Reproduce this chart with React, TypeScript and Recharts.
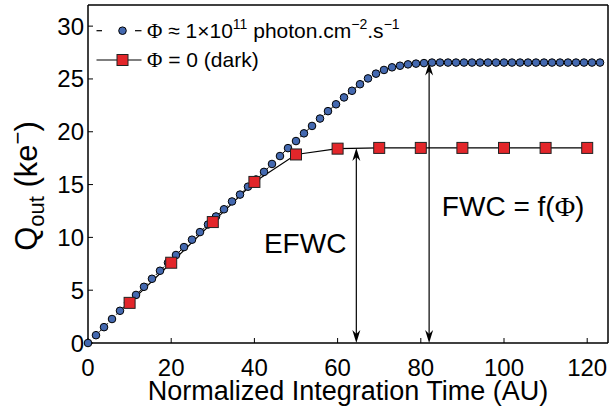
import { LineChart, Line, XAxis, YAxis, ReferenceLine, ReferenceDot, Legend } from "recharts";

// illuminated pixel, Φ ≈ 1e11 photon.cm-2.s-1
const blueTime = [
  0, 1.92, 3.85, 5.77, 7.69, 9.62, 11.54, 13.46, 15.38, 17.31, 19.23, 21.15, 23.08, 25, 26.92, 28.85,
  30.77, 32.69, 34.62, 36.54, 38.46, 40.38, 42.31, 44.23, 46.15, 48.08, 50, 51.92, 53.85, 55.77, 57.69,
  59.62, 61.54, 63.46, 65.38, 67.31, 69.23, 71.15, 73.08, 75, 76.92, 78.85, 80.77, 82.69, 84.62, 86.54,
  88.46, 90.38, 92.31, 94.23, 96.15, 98.08, 100, 101.92, 103.85, 105.77, 107.69, 109.62, 111.54, 113.46,
  115.38, 117.31, 119.23, 121.15, 123.08,
];
const blueCharge = [
  0, 0.74, 1.5, 2.27, 3.05, 3.8, 4.55, 5.32, 6.08, 6.84, 7.6, 8.33, 9.08, 9.78, 10.5, 11.22,
  11.98, 12.66, 13.4, 14.05, 14.8, 15.48, 16.2, 16.95, 17.7, 18.45, 19.12, 19.85, 20.55, 21.25, 21.95,
  22.6, 23.25, 23.88, 24.5, 25.05, 25.5, 25.85, 26.1, 26.25, 26.38, 26.45, 26.5, 26.55, 26.55, 26.55,
  26.55, 26.55, 26.55, 26.55, 26.55, 26.55, 26.55, 26.55, 26.55, 26.55, 26.55, 26.55, 26.55, 26.55,
  26.55, 26.55, 26.55, 26.55, 26.55,
];

// dark pixel, Φ = 0
const darkTime = [10, 20, 30, 40, 50, 60, 70, 80, 90, 100, 110, 120];
const darkCharge = [3.8, 7.6, 11.45, 15.25, 17.85, 18.4, 18.47, 18.47, 18.47, 18.47, 18.47, 18.47];

const xTicks = [0, 20, 40, 60, 80, 100, 120];
const yTicks = [0, 5, 10, 15, 20, 25, 30];

// annotation arrows
const efwcTime = 64.5;
const efwcLevel = 18.47;
const fwcTime = 82;
const fwcLevel = 26.55;

const FONT = '"Liberation Sans", Arial, Helvetica, sans-serif';
const SERIF = '"Liberation Serif", "Times New Roman", serif';

const blueData = blueTime.map((x, i) => ({ x, q: blueCharge[i] }));
const darkData = darkTime.map((x, i) => ({ x, q: darkCharge[i] }));

const BlueDot = (p: any) => (
  <circle key={`b-${p.index}`} cx={p.cx} cy={p.cy} r={3.8} fill="#4469B0" stroke="#000" strokeWidth={1} />
);

const RedDot = (p: any) => (
  <rect key={`r-${p.index}`} x={p.cx - 5.5} y={p.cy - 5.5} width={11} height={11} fill="#E3262A" stroke="#222" strokeWidth={1} />
);

function DoubleArrow(props: any) {
  const { x1, y1, y2 } = props;
  const top = Math.min(y1, y2);
  const bottom = Math.max(y1, y2);
  const x = x1;
  return (
    <g>
      <line x1={x} y1={top + 4} x2={x} y2={bottom - 4} stroke="#000" strokeWidth={1.2} />
      <path d={`M${x},${top} L${x - 4},${top + 13} L${x},${top + 9} L${x + 4},${top + 13} Z`} fill="#000" />
      <path d={`M${x},${bottom} L${x - 4},${bottom - 13} L${x},${bottom - 9} L${x + 4},${bottom - 13} Z`} fill="#000" />
    </g>
  );
}

function LegendBox() {
  return (
    <svg width={420} height={80} style={{ display: "block" }}>
      <line x1={96.5} y1={30.7} x2={102} y2={30.7} stroke="#000" strokeWidth={1.2} />
      <line x1={135} y1={30.7} x2={141.5} y2={30.7} stroke="#000" strokeWidth={1.2} />
      <circle cx={122.5} cy={30.7} r={3.8} fill="#4469B0" stroke="#000" strokeWidth={1} />
      <text x={147} y={37.5} fontSize={21} fontFamily={FONT} fill="#000">
        <tspan fontFamily={SERIF}>Φ</tspan>
        {" ≈ 1×10"}
        <tspan dy={-9} fontSize={14}>11</tspan>
        <tspan dy={9}>{" photon.cm"}</tspan>
        <tspan dy={-9} fontSize={14}>−2</tspan>
        <tspan dy={9}>.s</tspan>
        <tspan dy={-9} fontSize={14}>−1</tspan>
      </text>
      <line x1={96.5} y1={60} x2={141.5} y2={60} stroke="#000" strokeWidth={1.2} />
      <rect x={117} y={54.5} width={11} height={11} fill="#E3262A" stroke="#222" strokeWidth={1} />
      <text x={147} y={67} fontSize={21} fontFamily={FONT} fill="#000">
        <tspan fontFamily={SERIF}>Φ</tspan>
        {" = 0 (dark)"}
      </text>
    </svg>
  );
}

function XTitle(props: any) {
  const vb = props.viewBox;
  return (
    <text x={vb.x + vb.width / 2} y={vb.y + 57} textAnchor="middle" fontSize={27} fontFamily={FONT} fill="#000">
      Normalized Integration Time (AU)
    </text>
  );
}

function YTitle(props: any) {
  const vb = props.viewBox;
  const x = vb.x + 37;
  const y = vb.y + vb.height / 2 + 12;
  return (
    <text x={x} y={y} transform={`rotate(-90 ${x} ${y})`} textAnchor="middle" fontSize={31} fontFamily={FONT} fill="#000">
      Q
      <tspan fontSize={22} dy={7}>out</tspan>
      <tspan dy={-7}>{" (ke"}</tspan>
      <tspan fontSize={22} dy={-12}>−</tspan>
      <tspan dy={12}>)</tspan>
    </text>
  );
}

const tickStyle = { fontSize: 24, fill: "#000", fontFamily: FONT };

export default function App() {
  return (
    <div style={{ position: "absolute", left: 0, top: 0, background: "#fff" }}>
      <LineChart width={610} height={409} margin={{ top: 0, right: 0, bottom: 0, left: 0 }}>
        <XAxis
          xAxisId="b"
          type="number"
          dataKey="x"
          domain={[0, 125]}
          ticks={xTicks}
          orientation="bottom"
          height={66}
          tickSize={-5}
          tickMargin={21}
          axisLine={{ stroke: "#000", strokeWidth: 1.5 }}
          tickLine={{ stroke: "#000" }}
          tick={tickStyle}
          label={(p: any) => <XTitle {...p} />}
        />
        <XAxis
          xAxisId="t"
          type="number"
          dataKey="x"
          domain={[0, 125]}
          ticks={xTicks}
          orientation="top"
          height={5}
          tickSize={-5}
          tick={false}
          axisLine={{ stroke: "#000", strokeWidth: 1.5 }}
          tickLine={{ stroke: "#000" }}
        />
        <YAxis
          yAxisId="l"
          type="number"
          domain={[0, 32]}
          ticks={yTicks}
          orientation="left"
          width={88}
          tickSize={-5}
          tickMargin={9}
          axisLine={{ stroke: "#000", strokeWidth: 1.5 }}
          tickLine={{ stroke: "#000" }}
          tick={tickStyle}
          label={(p: any) => <YTitle {...p} />}
        />
        <YAxis
          yAxisId="r"
          type="number"
          domain={[0, 32]}
          ticks={yTicks}
          orientation="right"
          width={2}
          tickSize={-5}
          tick={false}
          axisLine={{ stroke: "#000", strokeWidth: 1.5 }}
          tickLine={{ stroke: "#000" }}
        />
        <Legend
          layout="vertical"
          align="center"
          verticalAlign="middle"
          wrapperStyle={{ left: 0, top: 0, width: 420, height: 80 }}
          content={() => <LegendBox />}
        />
        <Line
          xAxisId="b"
          yAxisId="l"
          data={blueData}
          dataKey="q"
          type="linear"
          stroke="#000"
          strokeWidth={1}
          strokeDasharray="4 4"
          dot={BlueDot}
          activeDot={false}
          isAnimationActive={false}
        />
        <Line
          xAxisId="b"
          yAxisId="l"
          data={darkData}
          dataKey="q"
          type="linear"
          stroke="#000"
          strokeWidth={1.2}
          dot={RedDot}
          activeDot={false}
          isAnimationActive={false}
        />
        <ReferenceLine
          xAxisId="b"
          yAxisId="l"
          segment={[{ x: efwcTime, y: 0 }, { x: efwcTime, y: efwcLevel }]}
          shape={(p: any) => <DoubleArrow {...p} />}
        />
        <ReferenceLine
          xAxisId="b"
          yAxisId="l"
          segment={[{ x: fwcTime, y: 0 }, { x: fwcTime, y: fwcLevel }]}
          shape={(p: any) => <DoubleArrow {...p} />}
        />
        <ReferenceDot
          xAxisId="b"
          yAxisId="l"
          x={52.2}
          y={8.5}
          shape={(p: any) => (
            <text x={p.cx} y={p.cy} textAnchor="middle" fontSize={28} fontFamily={FONT} fill="#000">
              EFWC
            </text>
          )}
        />
        <ReferenceDot
          xAxisId="b"
          yAxisId="l"
          x={102.2}
          y={12}
          shape={(p: any) => (
            <text x={p.cx} y={p.cy} textAnchor="middle" fontSize={28} fontFamily={FONT} fill="#000">
              {"FWC = f("}
              <tspan fontFamily={SERIF}>Φ</tspan>
              {")"}
            </text>
          )}
        />
      </LineChart>
    </div>
  );
}
